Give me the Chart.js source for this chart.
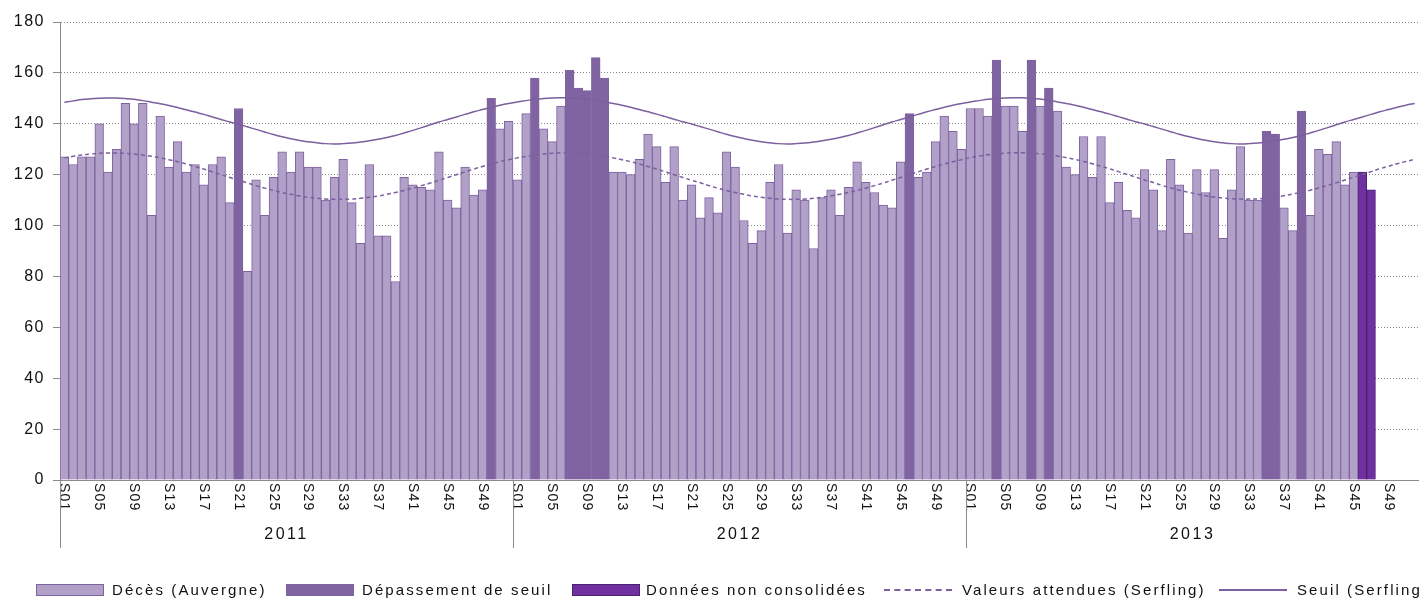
<!DOCTYPE html>
<html><head><meta charset="utf-8">
<script src="https://cdn.jsdelivr.net/npm/chart.js@4.4.1/dist/chart.umd.min.js"></script>
<style>
html,body{margin:0;padding:0;background:#fff;}
#wrap{position:relative;width:1419px;height:599px;overflow:hidden;}
canvas{position:absolute;left:0;top:0;}
.lg{position:absolute;top:580px;height:20px;line-height:20px;font-family:"Liberation Sans",Arial,sans-serif;font-size:15px;letter-spacing:2.1px;color:#111;white-space:nowrap;}
.sw{position:absolute;box-sizing:border-box;}
</style></head><body>
<div id="wrap"><canvas id="c" width="1419" height="599"></canvas><div id="legend"></div></div>
<script>
const years = ['2011', '2012', '2013'];
const weeks = ['S01','S02','S03','S04','S05','S06','S07','S08','S09','S10','S11','S12','S13','S14','S15','S16','S17','S18','S19','S20','S21','S22','S23','S24','S25','S26','S27','S28','S29','S30','S31','S32','S33','S34','S35','S36','S37','S38','S39','S40','S41','S42','S43','S44','S45','S46','S47','S48','S49','S50','S51','S52'];
const yTicks = [0, 20, 40, 60, 80, 100, 120, 140, 160, 180];

const deces2011 = [127,124,127,127,140,121,130,148,140,148,104,143,123,133,121,124,116,124,127,109,146,82,118,104,119,129,121,129,123,123,110,119,126,109,93,124,96,96,78,119,116,115,114,129,110,107,123,112,114,150,138,141];
const deces2012 = [118,144,158,138,133,147,161,154,153,166,158,121,121,120,126,136,131,117,131,110,116,103,111,105,129,123,102,93,98,117,124,97,114,110,91,111,114,104,115,125,117,113,108,107,125,144,119,121,133,143,137,130];
const deces2013 = [146,146,143,165,147,147,137,165,147,154,145,123,120,135,119,135,109,117,106,103,122,114,98,126,116,97,122,113,122,95,114,131,110,110,137,136,107,98,145,104,130,128,133,116,121,121,114,null,null,null,null,null];

// weeks (numbers) flagged as threshold exceedance / non-consolidated data
const depassement2011 = [21, 50];
const depassement2012 = [3, 7, 8, 9, 10, 11, 46];
const depassement2013 = [4, 8, 10, 35, 36, 39];
const nonConsolidees2013 = [46, 47];

const attendues2011 = [126.6,127.2,127.7,128.1,128.4,128.5,128.5,128.4,128.1,127.7,127.2,126.6,125.9,125.1,124.2,123.2,122.2,121.1,120.0,118.9,117.8,116.8,115.7,114.7,113.8,113.0,112.3,111.6,111.1,110.7,110.4,110.3,110.3,110.4,110.7,111.1,111.6,112.3,113.0,113.8,114.7,115.7,116.7,117.8,118.9,120.0,121.1,122.2,123.2,124.2,125.1,125.9];
const attendues2012 = [126.6,127.2,127.7,128.1,128.4,128.5,128.5,128.4,128.1,127.7,127.2,126.6,125.9,125.1,124.2,123.2,122.2,121.1,120.0,118.9,117.8,116.8,115.7,114.7,113.8,113.0,112.3,111.6,111.1,110.7,110.4,110.3,110.3,110.4,110.7,111.1,111.6,112.3,113.0,113.8,114.7,115.7,116.7,117.8,118.9,120.0,121.1,122.2,123.2,124.2,125.1,125.9];
const attendues2013 = [126.7,127.3,127.8,128.2,128.5,128.6,128.6,128.5,128.2,127.8,127.3,126.7,126.0,125.2,124.3,123.3,122.3,121.2,120.1,119.0,117.9,116.9,115.8,114.8,113.9,113.1,112.4,111.7,111.2,110.8,110.5,110.4,110.4,110.5,110.8,111.2,111.7,112.4,113.1,113.9,114.8,115.8,116.8,117.9,119.0,120.1,121.2,122.3,123.3,124.3,125.2,126.0];

const seuil2011 = [148.4,149.0,149.5,149.8,150.0,150.1,150.1,149.9,149.6,149.1,148.5,147.9,147.2,146.4,145.5,144.6,143.7,142.7,141.7,140.7,139.8,138.8,137.8,136.8,135.8,134.9,134.1,133.4,132.9,132.5,132.2,132.1,132.2,132.4,132.8,133.3,133.9,134.6,135.4,136.4,137.4,138.5,139.6,140.7,141.7,142.7,143.7,144.7,145.6,146.5,147.3,148.0];
const seuil2012 = [148.6,149.1,149.6,149.9,150.1,150.2,150.2,150.0,149.7,149.2,148.6,148.0,147.3,146.5,145.6,144.7,143.8,142.8,141.8,140.8,139.9,138.9,137.9,136.9,135.9,135.0,134.2,133.5,132.9,132.5,132.2,132.1,132.2,132.4,132.8,133.3,133.9,134.6,135.4,136.4,137.4,138.5,139.6,140.7,141.7,142.7,143.7,144.7,145.6,146.5,147.3,148.0];
const seuil2013 = [148.6,149.1,149.6,149.9,150.1,150.2,150.2,150.0,149.7,149.2,148.6,148.0,147.3,146.5,145.6,144.7,143.8,142.8,141.8,140.8,139.9,138.9,137.9,136.9,135.9,135.0,134.2,133.5,132.9,132.5,132.2,132.1,132.2,132.4,132.8,133.3,133.9,134.6,135.4,136.4,137.4,138.5,139.6,140.7,141.7,142.7,143.7,144.7,145.6,146.5,147.3,148.0];

const C_LIGHT = '#b1a0c7', C_LIGHT_B = '#7f62a2', C_MED = '#8064a2', C_DARK = '#7030a0', C_DARK_B = '#4b2070', C_LINE = '#7b5f9e';

// build the category axis and the three bar series
const yearData = [
  {deces: deces2011, dep: depassement2011, nc: []},
  {deces: deces2012, dep: depassement2012, nc: []},
  {deces: deces2013, dep: depassement2013, nc: nonConsolidees2013}
];
const labels = [], light = [], med = [], dark = [];
yearData.forEach((yd, k) => {
  weeks.forEach((w, i) => {
    const wn = i + 1, v = yd.deces[i];
    labels.push(w + ' ' + years[k]);
    const isNc = yd.nc.includes(wn), isDep = yd.dep.includes(wn);
    light.push(!isNc && !isDep ? v : null);
    med.push(isDep ? v : null);
    dark.push(isNc ? v : null);
  });
});
const attendues = [...attendues2011, ...attendues2012, ...attendues2013];
const seuil = [...seuil2011, ...seuil2012, ...seuil2013];

const FONT = '"Liberation Sans", Arial, sans-serif';

const spacingPlugin = {
  id: 'spacing',
  beforeDraw(chart) { chart.ctx.letterSpacing = '1.5px'; }
};

const xAxisPlugin = {
  id: 'xaxislabels',
  afterDraw(chart) {
    const {ctx, chartArea} = chart;
    const x = chart.scales.x;
    const step = x.getPixelForValue(1) - x.getPixelForValue(0);
    ctx.save();
    ctx.letterSpacing = '1.2px';
    ctx.fillStyle = '#111';
    ctx.font = '14px ' + FONT;
    ctx.textAlign = 'left';
    ctx.textBaseline = 'middle';
    labels.forEach((lab, i) => {
      const wn = (i % 52) + 1;
      if (wn % 4 !== 1) return;
      const px = x.getPixelForValue(i);
      ctx.save();
      ctx.translate(px, chartArea.bottom + 3);
      ctx.rotate(Math.PI / 2);
      ctx.fillText(weeks[wn - 1], 0, 0);
      ctx.restore();
    });
    ctx.strokeStyle = '#8c8c8c';
    ctx.lineWidth = 1;
    ctx.letterSpacing = '2.5px';
    ctx.font = '16px ' + FONT;
    ctx.textAlign = 'center';
    ctx.textBaseline = 'middle';
    years.forEach((yr, k) => {
      const left = x.getPixelForValue(k * 52) - step / 2;
      const right = x.getPixelForValue(k * 52 + 51) + step / 2;
      const lx = Math.round(left) + 0.5;
      ctx.beginPath();
      ctx.moveTo(lx, chartArea.bottom);
      ctx.lineTo(lx, 548);
      ctx.stroke();
      ctx.fillText(yr, (left + right) / 2, 535);
    });
    ctx.restore();
  }
};

new Chart(document.getElementById('c'), {
  data: {
    labels: labels,
    datasets: [
      {type: 'line', label: 'Valeurs attendues (Serfling)', data: attendues, borderColor: C_LINE, borderWidth: 1.5, borderDash: [4, 3], pointRadius: 0, tension: 0.4, order: 0},
      {type: 'line', label: 'Seuil (Serfling)', data: seuil, borderColor: C_LINE, borderWidth: 1.5, pointRadius: 0, tension: 0.4, order: 0},
      {type: 'bar', label: 'Décès (Auvergne)', data: light, backgroundColor: C_LIGHT, borderColor: C_LIGHT_B, borderWidth: 1, categoryPercentage: 1, barPercentage: 1, grouped: false, order: 1},
      {type: 'bar', label: 'Dépassement de seuil', data: med, backgroundColor: C_MED, borderColor: C_MED, borderWidth: 1, categoryPercentage: 1, barPercentage: 1, grouped: false, order: 1},
      {type: 'bar', label: 'Données non consolidées', data: dark, backgroundColor: C_DARK, borderColor: C_DARK_B, borderWidth: 1, categoryPercentage: 1, barPercentage: 1, grouped: false, order: 1}
    ]
  },
  options: {
    responsive: false,
    animation: false,
    devicePixelRatio: 1,
    layout: {padding: {top: 22, right: 0, left: 0, bottom: 0}},
    plugins: {legend: {display: false}, tooltip: {enabled: false}},
    scales: {
      x: {
        type: 'category',
        ticks: {display: false},
        grid: {display: false},
        border: {display: true, color: '#8c8c8c', width: 1},
        afterFit(s) { s.height = 119; }
      },
      y: {
        min: 0, max: 180,
        afterBuildTicks(s) { s.ticks = yTicks.map(v => ({value: v})); },
        ticks: {color: '#111', font: {family: FONT, size: 16}, padding: 8},
        grid: {color: '#8c8c8c', lineWidth: 1, tickLength: 7, tickColor: '#8c8c8c', tickBorderDash: [0, 0]},
        border: {display: true, color: '#8c8c8c', width: 1, dash: [1, 2]},
        afterFit(s) { s.width = 60; }
      }
    }
  },
  plugins: [spacingPlugin, xAxisPlugin]
});

// legend (HTML)
const legendItems = [
  {text: 'Décès (Auvergne)', kind: 'box', fill: C_LIGHT, border: C_LIGHT_B, sx: 36, tx: 112},
  {text: 'Dépassement de seuil', kind: 'box', fill: C_MED, border: C_MED, sx: 286, tx: 362},
  {text: 'Données non consolidées', kind: 'box', fill: C_DARK, border: C_DARK_B, sx: 572, tx: 646},
  {text: 'Valeurs attendues (Serfling)', kind: 'dash', sx: 884, tx: 962},
  {text: 'Seuil (Serfling)', kind: 'line', sx: 1219, tx: 1297}
];
const lg = document.getElementById('legend');
legendItems.forEach(it => {
  const sw = document.createElement('div');
  sw.className = 'sw';
  sw.style.left = it.sx + 'px';
  sw.style.width = '68px';
  if (it.kind === 'box') {
    sw.style.top = '584px'; sw.style.height = '12px';
    sw.style.background = it.fill; sw.style.border = '1px solid ' + it.border;
  } else {
    sw.style.top = '589px'; sw.style.height = '0px';
    sw.style.borderTop = '2px ' + (it.kind === 'dash' ? 'dashed ' : 'solid ') + C_LINE;
  }
  lg.appendChild(sw);
  const t = document.createElement('div');
  t.className = 'lg';
  t.style.left = it.tx + 'px';
  t.textContent = it.text;
  lg.appendChild(t);
});
</script>
</body></html>
